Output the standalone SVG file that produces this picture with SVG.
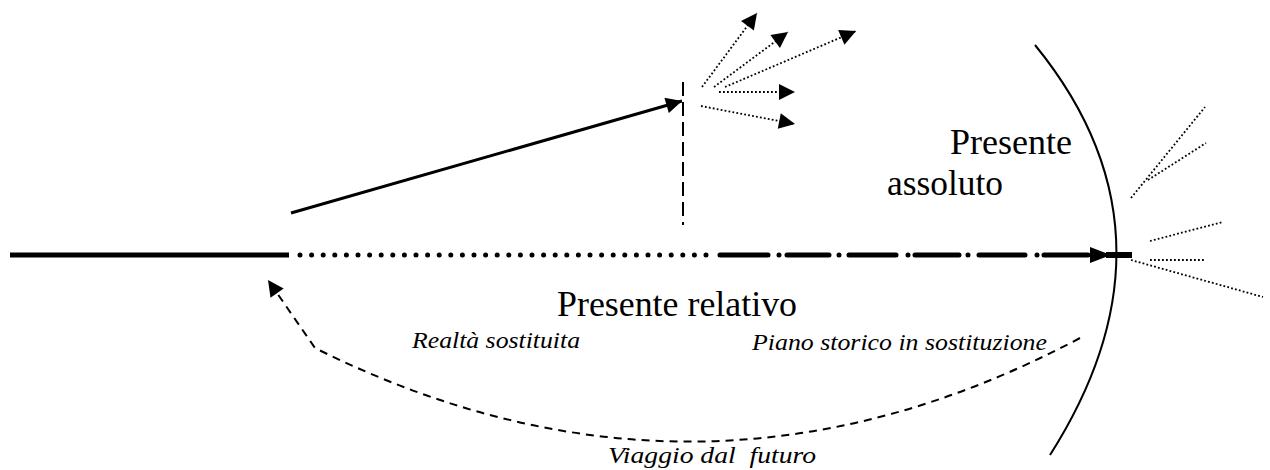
<svg xmlns="http://www.w3.org/2000/svg" width="1270" height="470" viewBox="0 0 1270 470">
<style>
.ln{fill:none;stroke:#000}
.dot{fill:none;stroke:#000;stroke-width:1.8;stroke-dasharray:1.8 2.2}
text{fill:#000}
</style>
<defs>
<marker id="ah" viewBox="0 0 10 10" refX="10" refY="5" markerWidth="19" markerHeight="16" markerUnits="userSpaceOnUse" orient="auto">
<path d="M0,0L10,5L0,10z" fill="#000"/>
</marker>
</defs>
<g id="connectors">
<path class="ln" d="M10,255H289" stroke-width="5"/>
<path class="ln" d="M300,255H712" stroke-width="5" stroke-linecap="round" stroke-dasharray="0 11.6"/>
<path class="ln" stroke-width="5" stroke-linecap="round" d="M720,255H768M779,255H779M787,255H829M839,255H839M849,255H896M908,255H908M915,255H959M968,255H968M979,255H1025M1037,255H1037M1044,255H1088"/>
<path d="M1090,247L1111,255L1090,263z" fill="#000"/>
<path class="ln" d="M1106,255H1132" stroke-width="6"/>
<path class="ln" d="M1035,45Q1190,235 1050,455" stroke-width="2"/>
<path class="dot" d="M1131,198L1205,107"/>
<path class="dot" d="M1148,180L1206,143"/>
<path class="dot" d="M1150,241L1223,222"/>
<path class="dot" d="M1150,260L1206,260"/>
<path class="dot" d="M1131,260L1263,297"/>
<path class="ln" d="M291,213L682,101" stroke-width="3" marker-end="url(#ah)"/>
<path class="ln" d="M683,82V225" stroke-width="2" stroke-dasharray="14 6"/>
<path class="dot" d="M702,87L757,13" marker-end="url(#ah)"/>
<path class="dot" d="M714,87L788,32" marker-end="url(#ah)"/>
<path class="dot" d="M725,87L856,31" marker-end="url(#ah)"/>
<path class="dot" d="M719,92L795,92" marker-end="url(#ah)"/>
<path class="dot" d="M701,106L795,124" marker-end="url(#ah)"/>
<path class="ln" d="M1080,338Q700,540 315,348L268,280" stroke-width="2" stroke-dasharray="8 6" marker-end="url(#ah)"/>
</g>
<g id="labels" font-family="Liberation Serif, Times New Roman, serif">
<text x="950" y="154" font-size="35" textLength="122" lengthAdjust="spacingAndGlyphs">Presente</text>
<text x="887" y="195" font-size="35" textLength="116" lengthAdjust="spacingAndGlyphs">assoluto</text>
<text x="557" y="316" font-size="35" textLength="240" lengthAdjust="spacingAndGlyphs">Presente relativo</text>
<text x="412" y="348" font-size="24" font-style="italic" textLength="168" lengthAdjust="spacingAndGlyphs">Realtà sostituita</text>
<text x="752" y="350" font-size="24" font-style="italic" textLength="295" lengthAdjust="spacingAndGlyphs">Piano storico in sostituzione</text>
<text x="608" y="463" font-size="24" font-style="italic" textLength="208" lengthAdjust="spacingAndGlyphs" xml:space="preserve">Viaggio dal  futuro</text>
</g>
</svg>
